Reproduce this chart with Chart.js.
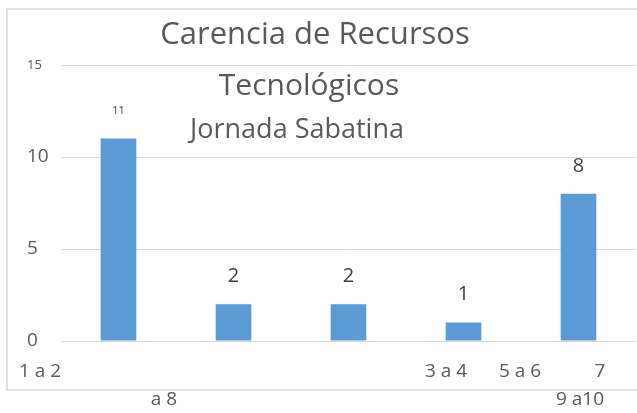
<!DOCTYPE html>
<html>
<head>
<meta charset="utf-8">
<script src="https://cdn.jsdelivr.net/npm/chart.js@4/dist/chart.umd.min.js"></script>
<style>
  body { margin: 0; background: #fff; }
  canvas { display: block; }
</style>
</head>
<body>
<canvas id="grafico" width="637" height="413"></canvas>
<script>
const categorias = ["1 a 2", "3 a 4", "5 a 6", "7 a 8", "9 a10"];
const valores = [11, 2, 2, 1, 8];
const ticksY = [0, 5, 10, 15];
const titulos = ["Carencia de Recursos", "Tecnológicos", "Jornada Sabatina"];

const fuente = "'Open Sans', 'DejaVu Sans', sans-serif";
const gris = "#595959";

// marco del grafico (borde gris claro, cortado a la derecha)
const marco = {
  id: "marco",
  beforeDraw(chart) {
    const c = chart.ctx;
    c.save();
    c.fillStyle = "#fff";
    c.fillRect(0, 0, chart.width, chart.height);
    c.strokeStyle = "#D9D9D9";
    c.lineWidth = 1.5;
    c.strokeRect(7, 9, chart.width + 10, 381);
    c.restore();
  }
};

// titulo en tres lineas, tal como aparece en la imagen
const titulo = {
  id: "titulo",
  afterDraw(chart) {
    const c = chart.ctx;
    c.save();
    c.fillStyle = gris;
    c.textAlign = "center";
    c.textBaseline = "alphabetic";
    c.font = "31px " + fuente;
    c.fillText(titulos[0], 315, 44);
    c.font = "30px " + fuente;
    c.fillText(titulos[1], 309, 95);
    c.font = "27px " + fuente;
    c.fillText(titulos[2], 297, 138);
    c.restore();
  }
};

// etiquetas de datos sobre cada barra
const etiquetas = {
  id: "etiquetas",
  afterDatasetsDraw(chart) {
    const c = chart.ctx;
    const meta = chart.getDatasetMeta(0);
    c.save();
    c.fillStyle = "#404040";
    c.textAlign = "center";
    c.textBaseline = "middle";
    meta.data.forEach((bar, i) => {
      c.font = (i === 0 ? "11px " : "20px ") + fuente;
      c.fillText(String(valores[i]), bar.x, bar.y - 28);
    });
    c.restore();
  }
};

// etiquetas del eje X desordenadas como en el original
const ejeX = {
  id: "ejeX",
  afterDraw(chart) {
    const c = chart.ctx;
    const partes = [
      [categorias[0], 40, 372],
      [categorias[3].slice(2), 164, 400],
      [categorias[1], 446, 372],
      [categorias[2], 520, 372],
      [categorias[3].slice(0, 1), 600, 372],
      [categorias[4], 580, 400]
    ];
    c.save();
    c.fillStyle = gris;
    c.font = "19px " + fuente;
    c.textAlign = "center";
    c.textBaseline = "middle";
    partes.forEach(p => c.fillText(p[0], p[1], p[2]));
    c.restore();
  }
};

new Chart(document.getElementById("grafico"), {
  type: "bar",
  data: {
    labels: categorias,
    datasets: [{
      data: valores,
      backgroundColor: "#5B9BD5",
      categoryPercentage: 1,
      barPercentage: 0.31
    }]
  },
  options: {
    responsive: false,
    animation: false,
    layout: { padding: { left: 27, top: 65, right: 1, bottom: 72 } },
    plugins: { legend: { display: false }, tooltip: { enabled: false }, title: { display: false } },
    scales: {
      x: { display: false },
      y: {
        min: 0,
        max: 15,
        afterBuildTicks(scale) { scale.ticks = ticksY.map(v => ({ value: v })); },
        afterFit(scale) { scale.width = 34; },
        grid: { color: "#D9D9D9", drawTicks: false },
        border: { display: false },
        ticks: {
          crossAlign: "far",
          color: gris,
          font: ctx => ({ family: fuente, size: ctx.tick && ctx.tick.value === 15 ? 13 : 19 })
        }
      }
    }
  },
  plugins: [marco, titulo, etiquetas, ejeX]
});
</script>
</body>
</html>
